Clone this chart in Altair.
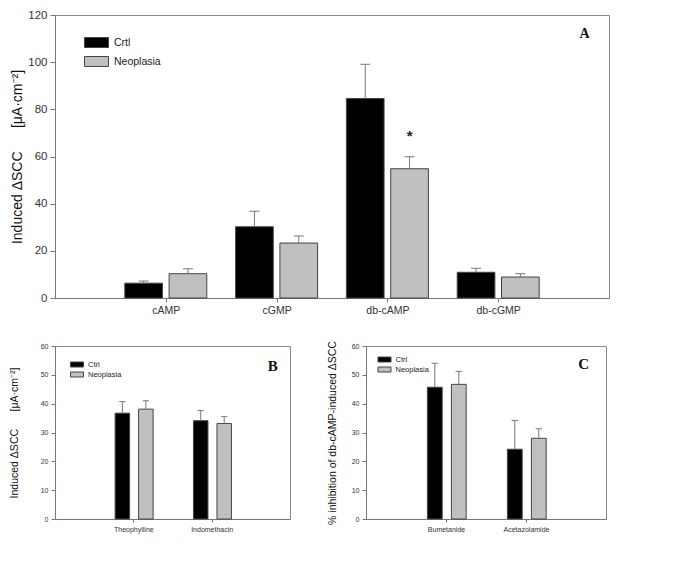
import json
import altair as alt
import pandas as pd

# ---------------- data ----------------
A_categories = ["cAMP", "cGMP", "db-cAMP", "db-cGMP"]
A_series = ["Crtl", "Neoplasia"]
A_ctrl = [6.3, 30.2, 84.6, 10.9]
A_ctrl_err = [0.9, 6.6, 14.5, 1.7]
A_neo = [10.3, 23.3, 54.8, 8.9]
A_neo_err = [2.1, 3.0, 5.1, 1.4]

B_categories = ["Theophylline", "Indomethacin"]
B_series = ["Ctrl", "Neoplasia"]
B_ctrl = [36.7, 34.1]
B_ctrl_err = [4.0, 3.5]
B_neo = [38.1, 33.1]
B_neo_err = [2.9, 2.4]

C_categories = ["Bumetanide", "Acetazolamide"]
C_series = ["Ctrl", "Neoplasia"]
C_ctrl = [45.7, 24.2]
C_ctrl_err = [8.3, 10.0]
C_neo = [46.7, 28.0]
C_neo_err = [4.5, 3.3]

NB = "\u00a0"
A_ytitle = "Induced ΔSCC" + NB * 6 + "[μA·cm⁻²]"
B_ytitle = "Induced ΔSCC" + NB * 6 + "[μA·cm⁻²]"
C_ytitle = "% inhibition of db-cAMP-induced ΔSCC"

SANS = "Liberation Sans"
SERIF = "Liberation Serif"


def make_df(cats, names, ctrl, ctrl_err, neo, neo_err, offsets, barw, capw):
    rows = []
    for i, c in enumerate(cats):
        for name, vals, errs, off in ((names[0], ctrl, ctrl_err, offsets[0]),
                                      (names[1], neo, neo_err, offsets[1])):
            p = i + 1 + off
            rows.append(dict(cat=c, series=name, pos=p, left=p - barw / 2,
                             right=p + barw / 2, cl=p - capw, cr=p + capw,
                             value=vals[i], zero=0, top=vals[i] + errs[i]))
    return pd.DataFrame(rows)


def panel(df, names, cats, width, height, ymax, ystep, ytitle, yfs, titlefs,
          titlepad, xfs, tick, leg, letter, letter_xy, letter_fs, star=None):
    xscale = alt.Scale(domain=[0, len(cats) + 1], nice=False, zero=False)
    yscale = alt.Scale(domain=[0, ymax], nice=False)
    label_expr = json.dumps([""] + cats) + "[datum.value]"
    xaxis = alt.Axis(values=list(range(1, len(cats) + 1)), labelExpr=label_expr,
                     title=None, tickSize=tick, labelFontSize=xfs, labelFont=SANS,
                     labelPadding=3, grid=False)
    yaxis = alt.Axis(values=list(range(0, ymax + 1, ystep)), title=ytitle,
                     tickSize=tick + 1, labelFontSize=yfs, labelFont=SANS,
                     titleFontSize=titlefs, titleFont=SANS, titleFontWeight="normal",
                     titlePadding=titlepad, labelPadding=3, grid=False)
    color = alt.Color(
        "series:N",
        scale=alt.Scale(domain=names, range=["#000000", "#c0c0c0"]),
        legend=alt.Legend(orient="none", legendX=leg["x"], legendY=leg["y"],
                          title=None, symbolType=leg["path"], symbolSize=100,
                          symbolStrokeColor="#444", symbolStrokeWidth=1,
                          labelFont=SANS, labelFontSize=leg["fs"], labelColor="#222",
                          labelOffset=leg["off"], rowPadding=leg["row"], padding=0),
    )
    base = alt.Chart(df)
    bars = base.mark_bar(stroke="#444", strokeWidth=1).encode(
        x=alt.X("left:Q", scale=xscale, axis=xaxis),
        x2="right:Q",
        y=alt.Y("value:Q", scale=yscale, axis=yaxis),
        y2="zero:Q",
        color=color,
    )
    err = base.mark_rule(color="#777", strokeWidth=1).encode(
        x=alt.X("pos:Q", scale=xscale, axis=xaxis),
        y=alt.Y("value:Q", scale=yscale, axis=yaxis),
        y2="top:Q",
    )
    cap = base.mark_rule(color="#777", strokeWidth=1).encode(
        x=alt.X("cl:Q", scale=xscale, axis=xaxis),
        x2="cr:Q",
        y=alt.Y("top:Q", scale=yscale, axis=yaxis),
    )
    lt = pd.DataFrame({"x": [letter_xy[0]], "y": [letter_xy[1]], "t": [letter]})
    letter_mark = alt.Chart(lt).mark_text(font=SERIF, fontWeight="bold",
                                          fontSize=letter_fs, color="#111",
                                          baseline="middle").encode(
        x=alt.X("x:Q", scale=xscale, axis=xaxis),
        y=alt.Y("y:Q", scale=yscale, axis=yaxis),
        text="t:N",
    )
    layers = [bars, err, cap, letter_mark]
    if star is not None:
        st = pd.DataFrame({"x": [star[0]], "y": [star[1]], "t": ["*"]})
        layers.append(alt.Chart(st).mark_text(font=SANS, fontWeight="bold",
                                              fontSize=15, color="#222",
                                              baseline="middle", dy=4).encode(
            x=alt.X("x:Q", scale=xscale, axis=xaxis),
            y=alt.Y("y:Q", scale=yscale, axis=yaxis),
            text="t:N",
        ))
    return alt.layer(*layers).properties(width=width, height=height)


dfA = make_df(A_categories, A_series, A_ctrl, A_ctrl_err, A_neo, A_neo_err,
              (-0.2, 0.2), 0.34, 0.045)
dfB = make_df(B_categories, B_series, B_ctrl, B_ctrl_err, B_neo, B_neo_err,
              (-0.14, 0.16), 0.185, 0.04)
dfC = make_df(C_categories, C_series, C_ctrl, C_ctrl_err, C_neo, C_neo_err,
              (-0.14, 0.16), 0.185, 0.04)

# legend symbols: wide rectangles (symbolSize 100 -> unit = 5 px)
legA = dict(x=36, y=22, path="M-2.4,-1H2.4V1H-2.4Z", fs=10.5, off=12, row=4)
legB = dict(x=16.5, y=13, path="M-1.3,-0.5H1.3V0.5H-1.3Z", fs=7.5, off=5.5, row=0)
legC = dict(x=13, y=8, path="M-1.3,-0.5H1.3V0.5H-1.3Z", fs=7.5, off=5.5, row=0)

chartA = panel(dfA, A_series, A_categories, 554, 283, 120, 20, A_ytitle, 11.5, 14,
               3, 10.5, 4, legA, "A", (4.78, 112), 14, star=(3.2, 70.5))
chartB = panel(dfB, B_series, B_categories, 235, 173, 60, 10, B_ytitle, 7, 10.5,
               21, 7, 3, legB, "B", (2.78, 53), 15)
chartC = panel(dfC, C_series, C_categories, 240, 173, 60, 10, C_ytitle, 7, 10.5,
               14, 7, 3, legC, "C", (2.72, 53.8), 15)

bottom = alt.hconcat(chartB, chartC, spacing=76, bounds="flush").resolve_scale(
    color="independent").resolve_legend(color="independent")
chart = alt.vconcat(chartA, bottom, spacing=48, bounds="flush").resolve_scale(
    color="independent").resolve_legend(color="independent").properties(
    padding={"left": 0, "top": 0, "right": 5, "bottom": 5}
).configure_view(stroke="#888", strokeWidth=1).configure_axis(
    domainColor="#777", tickColor="#777", labelColor="#333", titleColor="#111"
)

chart.save("out.html", embed_options={"renderer": "svg", "actions": False})
